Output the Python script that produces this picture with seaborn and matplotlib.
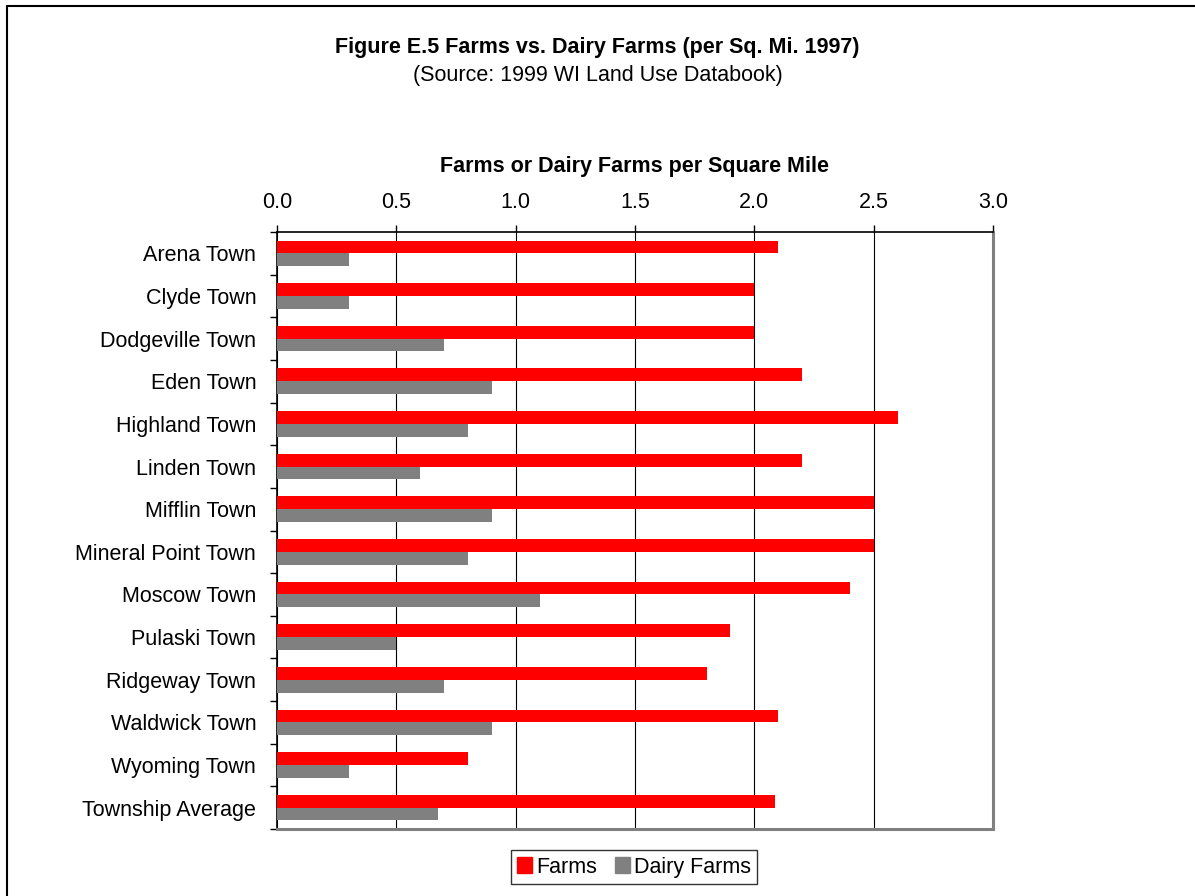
import matplotlib
matplotlib.use("Agg")
import matplotlib.pyplot as plt
from matplotlib.lines import Line2D
from matplotlib.ticker import FixedLocator
import seaborn as sns
import pandas as pd
import numpy as np

towns = ["Arena Town", "Clyde Town", "Dodgeville Town", "Eden Town", "Highland Town",
         "Linden Town", "Mifflin Town", "Mineral Point Town", "Moscow Town", "Pulaski Town",
         "Ridgeway Town", "Waldwick Town", "Wyoming Town", "Township Average"]
farms = [2.1, 2.0, 2.0, 2.2, 2.6, 2.2, 2.5, 2.5, 2.4, 1.9, 1.8, 2.1, 0.8, 2.085]
dairy = [0.3, 0.3, 0.7, 0.9, 0.8, 0.6, 0.9, 0.8, 1.1, 0.5, 0.7, 0.9, 0.3, 0.676]
series = ["Farms", "Dairy Farms"]
colors = ["#FF0000", "#808080"]
xticks = [0.0, 0.5, 1.0, 1.5, 2.0, 2.5, 3.0]

df = pd.DataFrame({
    "Town": towns * 2,
    "Value": farms + dairy,
    "Series": [series[0]] * len(towns) + [series[1]] * len(towns),
})

sns.set_style("white")
plt.rcParams["font.family"] = ["Liberation Sans", "DejaVu Sans"]
plt.rcParams["text.color"] = "black"
plt.rcParams["axes.labelcolor"] = "black"
plt.rcParams["xtick.color"] = "black"
plt.rcParams["ytick.color"] = "black"

FS = 15.5

fig = plt.figure(figsize=(11.95, 8.96), dpi=100)
ax = fig.add_axes([277/1195, 1 - 829/896, (993-277)/1195, (829-232)/896])

sns.barplot(data=df, x="Value", y="Town", hue="Series", orient="h",
            palette=colors, width=0.6, gap=0, saturation=1, ax=ax,
            edgecolor="none", linewidth=0, zorder=3)

ax.set_xlim(0, 3.0)
ax.set_ylim(len(towns) - 0.5, -0.5)
ax.xaxis.tick_top()
ax.xaxis.set_label_position("top")
ax.set_xticks(xticks)
ax.set_xticklabels([f"{v:.1f}" for v in xticks], fontsize=FS)
ax.tick_params(axis="x", which="major", direction="out", length=5, width=1,
               colors="black", pad=9, top=True, bottom=False)
ax.set_xlabel("Farms or Dairy Farms per Square Mile", fontsize=FS,
              fontweight="bold", labelpad=14, color="black")
ax.set_ylabel("")

ax.set_yticks(range(len(towns)))
ax.set_yticklabels(towns, fontsize=FS)
ax.tick_params(axis="y", which="major", length=0, pad=15, colors="black")
ax.yaxis.set_minor_locator(FixedLocator(np.arange(-0.5, len(towns), 1.0)))
ax.tick_params(axis="y", which="minor", direction="out", length=5, width=1,
               color="black", left=True)

ax.grid(axis="x", color="black", linewidth=0.8, zorder=0)
ax.grid(axis="y", visible=False)
ax.set_axisbelow(True)

ax.spines["left"].set_color("black")
ax.spines["left"].set_linewidth(1.2)
ax.spines["top"].set_color("black")
ax.spines["top"].set_linewidth(1.2)
ax.spines["right"].set_color("#808080")
ax.spines["right"].set_linewidth(2.2)
ax.spines["bottom"].set_color("#808080")
ax.spines["bottom"].set_linewidth(2.2)

ax.get_legend().remove()
handles = [plt.Rectangle((0, 0), 1, 1, color=c) for c in colors]
leg = fig.legend(handles, series, loc="center", bbox_to_anchor=(634/1195, 1 - 867/896),
                 ncol=2, fontsize=FS, frameon=True, fancybox=False, edgecolor="black",
                 handlelength=0.7, handleheight=0.7, handletextpad=0.2,
                 columnspacing=0.8, borderpad=0.3, borderaxespad=0)
leg.get_frame().set_linewidth(1.0)

fig.text(0.5, 1 - 48/896, "Figure E.5 Farms vs. Dairy Farms (per Sq. Mi. 1997)",
         ha="center", va="center", fontsize=FS, fontweight="bold")
fig.text(0.5, 1 - 75/896, "(Source: 1999 WI Land Use Databook)",
         ha="center", va="center", fontsize=FS)

fig.add_artist(Line2D([7/1195, 1], [1 - 6.5/896, 1 - 6.5/896], transform=fig.transFigure,
                      color="black", linewidth=1.5))
fig.add_artist(Line2D([7/1195, 7/1195], [0, 1 - 6.5/896], transform=fig.transFigure,
                      color="black", linewidth=1.5))

fig.savefig("out.png", dpi=100)
